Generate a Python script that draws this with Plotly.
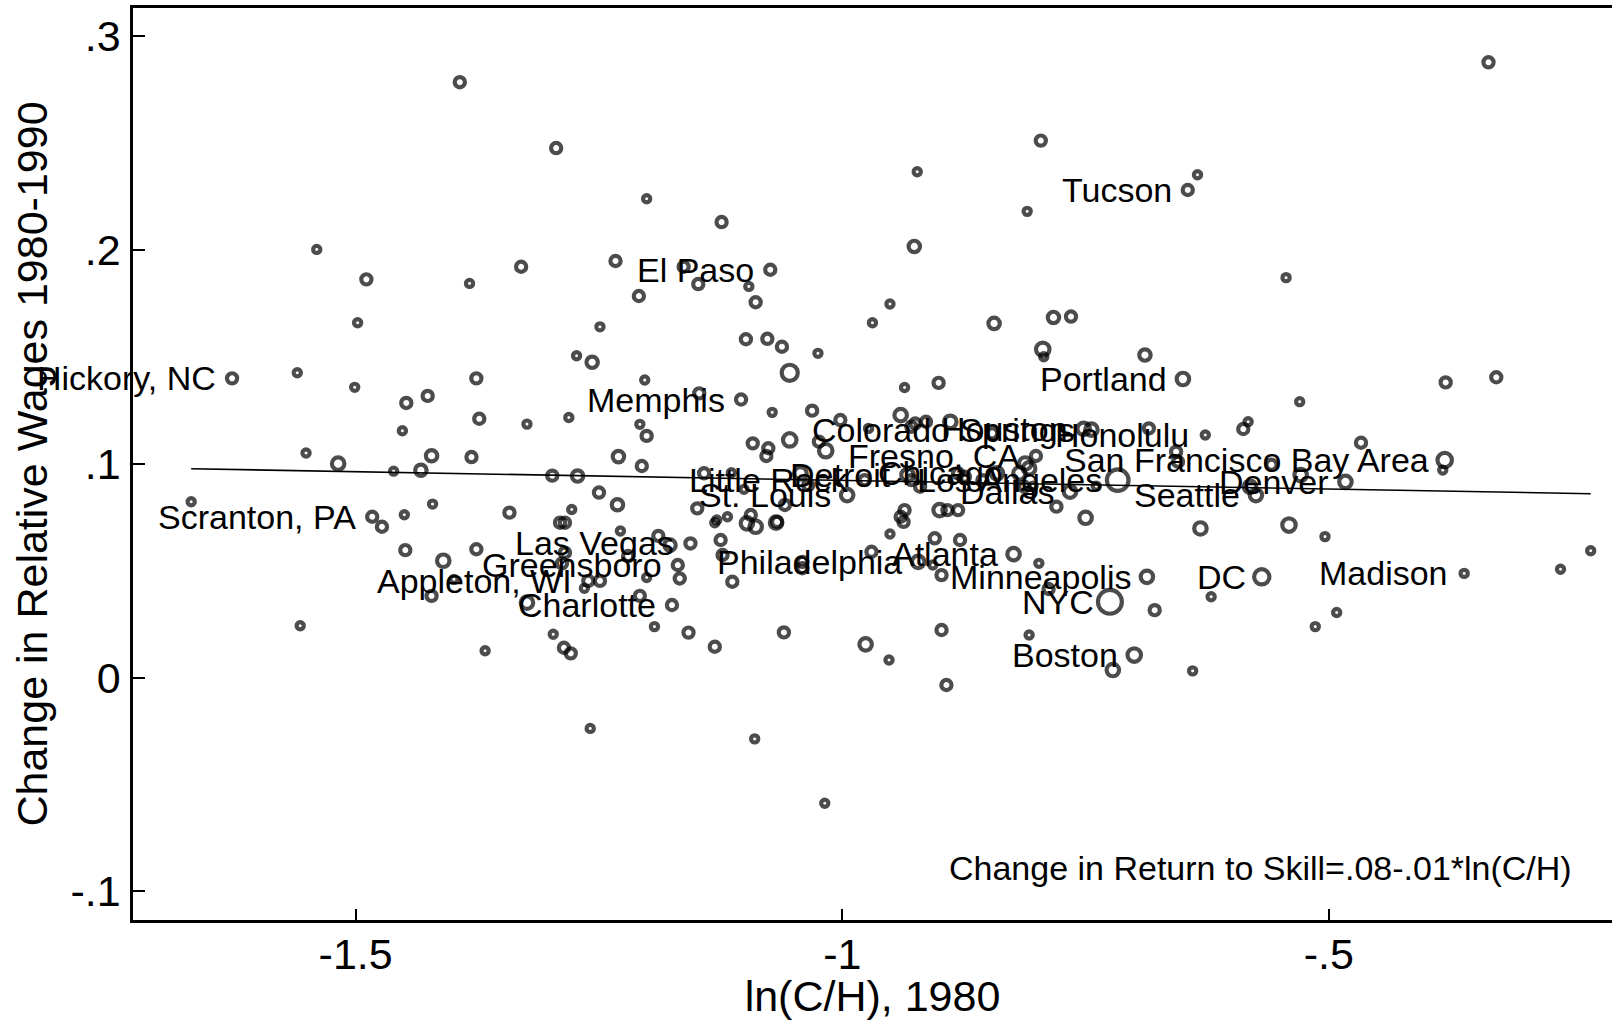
import numpy as np
import plotly.graph_objects as go

# ---------------- data ----------------
ln_ch = [
    -1.393, -1.294, -0.796, -0.923, -0.635, -0.645, -0.336, -1.201, -1.124, -0.810,
    -1.540, -0.926, -1.233, -1.330, -1.163, -1.074, -1.148, -1.096, -1.489, -1.383,
    -0.544, -1.209, -1.089, -0.951, -1.498, -1.249, -0.969, -0.844, -0.783, -0.765,
    -1.099, -1.077, -1.062, -1.025, -0.794, -0.793, -0.689, -1.273, -1.257, -1.054,
    -1.560, -1.627, -1.376, -1.203, -0.650, -0.380, -0.328, -0.936, -0.901, -1.501,
    -1.448, -1.426, -1.147, -1.104, -1.072, -1.031, -0.530, -1.452, -1.373, -1.324,
    -1.281, -1.208, -1.201, -1.054, -1.092, -1.076, -1.078, -1.024, -1.017, -1.002,
    -0.973, -0.940, -0.925, -0.929, -0.914, -0.889, -0.846, -0.752, -0.744, -0.685,
    -0.801, -0.812, -0.808, -0.818, -0.657, -0.655, -0.627, -0.583, -0.588, -0.467,
    -0.559, -0.381, -0.383, -0.529, -0.483, -0.575, -0.581, -0.717, -0.739, -0.766,
    -0.780, -0.750, -0.632, -0.541, -0.504, -0.804, -0.813, -0.856, -0.841, -0.881,
    -0.874, -0.933, -0.929, -0.920, -0.977, -1.043, -1.035, -0.995, -1.059, -1.142,
    -1.114, -1.101, -1.149, -1.129, -1.131, -1.118, -1.098, -1.089, -1.094, -1.068,
    -1.067, -0.936, -0.940, -0.937, -0.900, -0.892, -0.881, -0.951, -0.905, -0.879,
    -1.189, -1.177, -1.156, -1.125, -1.123, -1.169, -1.167, -1.201, -1.113, -1.041,
    -1.041, -0.970, -0.922, -0.907, -0.898, -0.824, -0.798, -0.687, -0.788, -0.725,
    -0.679, -0.569, -0.621, -0.361, -0.262, -0.231, -0.492, -0.514, -0.700, -0.722,
    -0.640, -0.808, -0.898, -0.952, -0.976, -1.060, -1.131, -1.158, -1.175, -1.193,
    -1.208, -0.893, -1.090, -1.018, -1.669, -1.557, -1.551, -1.518, -1.461, -1.433,
    -1.422, -1.381, -1.298, -1.272, -1.230, -1.206, -1.250, -1.231, -1.483, -1.473,
    -1.450, -1.421, -1.342, -1.278, -1.290, -1.285, -1.228, -1.449, -1.410, -1.376,
    -1.399, -1.422, -1.285, -1.288, -1.220, -1.261, -1.249, -1.265, -1.324, -1.367,
    -1.297, -1.286, -1.279, -1.259,
]

d_wage = [
    0.2784, 0.2476, 0.2511, 0.2365, 0.2351, 0.2280, 0.2877, 0.2239, 0.2130, 0.2180,
    0.2002, 0.2016, 0.1948, 0.1921, 0.1921, 0.1907, 0.1840, 0.1829, 0.1862, 0.1843,
    0.1870, 0.1784, 0.1755, 0.1747, 0.1659, 0.1640, 0.1659, 0.1656, 0.1684, 0.1688,
    0.1582, 0.1584, 0.1547, 0.1516, 0.1535, 0.1500, 0.1508, 0.1505, 0.1474, 0.1425,
    0.1425, 0.1399, 0.1399, 0.1391, 0.1396, 0.1380, 0.1404, 0.1356, 0.1378, 0.1357,
    0.1284, 0.1317, 0.1329, 0.1300, 0.1240, 0.1248, 0.1290, 0.1154, 0.1210, 0.1185,
    0.1216, 0.1184, 0.1130, 0.1111, 0.1095, 0.1072, 0.1036, 0.1103, 0.1061, 0.1204,
    0.1165, 0.1227, 0.1188, 0.1173, 0.1196, 0.1196, 0.1142, 0.1163, 0.1159, 0.1165,
    0.1036, 0.1001, 0.0978, 0.0955, 0.1056, 0.1009, 0.1134, 0.1196, 0.1162, 0.1098,
    0.0995, 0.1017, 0.0970, 0.0947, 0.0915, 0.0853, 0.0892, 0.0923, 0.0895, 0.0869,
    0.0799, 0.0747, 0.0697, 0.0713, 0.0659, 0.0895, 0.0892, 0.0923, 0.0955, 0.0955,
    0.0939, 0.0947, 0.0923, 0.0892, 0.0923, 0.0955, 0.0900, 0.0853, 0.0807, 0.0955,
    0.0958, 0.0880, 0.0791, 0.0737, 0.0724, 0.0752, 0.0721, 0.0705, 0.0760, 0.0724,
    0.0728, 0.0783, 0.0752, 0.0728, 0.0783, 0.0783, 0.0783, 0.0671, 0.0651, 0.0643,
    0.0662, 0.0619, 0.0627, 0.0643, 0.0573, 0.0526, 0.0463, 0.0468, 0.0448, 0.0541,
    0.0511, 0.0588, 0.0541, 0.0526, 0.0479, 0.0577, 0.0534, 0.0471, 0.0414, 0.0354,
    0.0315, 0.0471, 0.0378, 0.0487, 0.0506, 0.0593, 0.0304, 0.0238, 0.0105, 0.0035,
    0.0031, 0.0199, 0.0222, 0.0082, 0.0155, 0.0211, 0.0144, 0.0210, 0.0339, 0.0238,
    0.0382, -0.0035, -0.0287, -0.0588, 0.0822, 0.0242, 0.1050, 0.1000, 0.0965, 0.0969,
    0.1037, 0.1031, 0.0944, 0.0942, 0.1033, 0.0989, 0.0865, 0.0808, 0.0752, 0.0705,
    0.0761, 0.0811, 0.0771, 0.0786, 0.0724, 0.0724, 0.0685, 0.0596, 0.0546, 0.0600,
    0.0459, 0.0382, 0.0584, 0.0534, 0.0568, 0.0452, 0.0452, 0.0417, 0.0350, 0.0125,
    0.0202, 0.0139, 0.0113, -0.0238,
]

# relative population weight of each city (marker area is proportional to it)
weight = [
    2, 2, 2, 1, 1, 2, 2, 1, 2, 1,
    1, 2.5, 2, 2, 2, 2, 2, 1, 2, 1,
    1, 2, 2, 1, 1, 1, 1, 2.5, 2.5, 2,
    2, 2, 2, 1, 3.5, 1, 2.5, 1, 2.5, 5,
    1, 2, 2, 1, 3, 2, 2, 1, 2, 1,
    2, 2, 2, 2, 1, 2, 1, 1, 2, 1,
    1, 1, 2, 3.5, 2, 2, 2, 2, 3.5, 2,
    1, 3, 2, 2, 2, 3, 2, 3, 3, 2,
    2, 3, 3, 3, 2, 2, 1, 1, 2, 2,
    2, 4, 1, 3, 3, 3, 3, 9, 1, 3,
    2, 3, 3, 3.5, 1, 1, 2, 2, 3, 2,
    2, 3, 2, 2, 2, 3, 2, 3, 2, 2,
    1, 1, 2, 1, 1, 1, 3, 3, 2, 3,
    2, 2, 2, 2, 3, 2, 2, 1, 2, 2,
    2, 2.5, 2, 2, 2, 2, 2, 1, 2, 2,
    2, 2, 3, 1, 2, 3, 1, 3, 2, 11,
    2, 4.5, 1, 1, 1, 1, 1, 1, 3.5, 3,
    1, 1, 2, 1, 3, 2, 2, 2, 2, 1,
    2, 2, 1, 1, 1, 1, 1, 3, 1, 2.5,
    2.5, 2, 2, 2.5, 2.5, 2, 2, 2.5, 2, 2,
    1, 1, 2, 1, 2, 2, 1, 2, 3, 2,
    1, 2, 2, 2, 2, 2, 2, 1, 3, 1,
    1, 2, 2, 1,
]

city = [
    "", "", "", "", "", "Tucson", "", "", "", "",
    "", "", "", "", "", "El Paso", "", "", "", "",
    "", "", "", "", "", "", "", "", "", "",
    "", "", "", "", "", "", "", "", "", "",
    "", "Hickory, NC", "", "", "Portland", "", "", "", "", "",
    "", "", "", "Memphis", "", "", "", "", "", "",
    "", "", "", "", "", "", "", "", "", "",
    "", "", "", "", "", "", "", "Houston", "Colorado Springs", "",
    "Fresno, CA", "", "", "Chicago", "", "", "Honolulu", "", "", "",
    "", "San Francisco Bay Area", "", "", "Denver", "Seattle", "", "Los Angeles", "", "Dallas",
    "", "", "", "", "", "", "", "", "", "",
    "", "Detroit", "", "", "Little Rock", "", "", "St. Louis", "", "",
    "", "", "", "", "", "", "", "", "", "",
    "", "", "", "", "", "", "", "", "", "",
    "", "", "Las Vegas", "", "", "Greensboro", "", "", "", "",
    "", "", "Philadelphia", "", "", "Atlanta", "", "Minneapolis", "", "NYC",
    "", "DC", "", "Madison", "", "", "", "", "Boston", "",
    "", "", "", "", "", "", "", "", "Charlotte", "",
    "", "", "", "", "", "", "", "", "", "",
    "", "", "", "", "", "", "", "", "Scranton, PA", "",
    "", "", "", "", "", "", "", "", "", "",
    "", "", "", "", "", "Appleton, WI", "", "", "", "",
    "", "", "", "",
]

fit_intercept = 0.0841
fit_slope = -0.0081
fit_note = "Change in Return to Skill=.08-.01*ln(C/H)"

x_tickvals = [-1.5, -1.0, -0.5]
x_ticktext = ["-1.5", "-1", "-.5"]
y_tickvals = [-0.1, 0.0, 0.1, 0.2, 0.3]
y_ticktext = ["-.1", "0", ".1", ".2", ".3"]

x_title = "ln(C/H), 1980"
y_title = "Change in Relative Wages 1980-1990"

# ---------------- figure ----------------
FONT = "Liberation Sans, Arial, Helvetica, sans-serif"

x = np.array(ln_ch)
y = np.array(d_wage)
w = np.array(weight, dtype=float)
msize = 7.2 * np.sqrt(w)

fig = go.Figure()

xl = np.array([x.min(), x.max()])
fig.add_trace(go.Scatter(
    x=xl, y=fit_intercept + fit_slope * xl, mode="lines",
    line=dict(color="black", width=1.6), hoverinfo="skip", showlegend=False))

fig.add_trace(go.Scatter(
    x=x, y=y, mode="markers", text=city,
    marker=dict(symbol="circle-open", size=msize, color="black",
                line=dict(width=4.2, color="black")),
    showlegend=False))

for xi, yi, c in zip(x, y, city):
    if c:
        fig.add_annotation(
            x=xi, y=yi, text=c, showarrow=False, xanchor="right", yanchor="middle",
            xshift=-14, font=dict(size=34, color="black", family=FONT))

L, T, B = 133, 8, 100
W, H = 1612, 1020
pw, ph = W - L, H - T - B

fig.add_annotation(
    xref="paper", yref="paper", x=(1574 - L) / pw, y=(H - B - 868) / ph,
    text=fit_note, showarrow=False, xanchor="right", yanchor="middle",
    font=dict(size=34, color="black", family=FONT))

fig.update_layout(
    width=W, height=H,
    margin=dict(l=L, r=0, t=T, b=B, pad=0, autoexpand=False),
    paper_bgcolor="white", plot_bgcolor="white",
    font=dict(family=FONT, color="black"),
    showlegend=False,
)

fig.update_xaxes(
    range=[-1.7288, -0.2091], automargin=False,
    tickmode="array", tickvals=x_tickvals, ticktext=x_ticktext,
    ticks="inside", ticklen=11, tickwidth=1.5, tickcolor="black",
    tickfont=dict(size=43, family=FONT, color="black"),
    ticklabelstandoff=-5,
    showline=True, linewidth=2.6, linecolor="black", mirror=True,
    showgrid=False, zeroline=False,
    title=dict(text=x_title, font=dict(size=43, family=FONT, color="black"), standoff=20),
)
fig.update_yaxes(
    range=[-0.1134, 0.3131], automargin=False,
    tickmode="array", tickvals=y_tickvals, ticktext=y_ticktext,
    ticks="inside", ticklen=12, tickwidth=1.5, tickcolor="black",
    tickfont=dict(size=43, family=FONT, color="black"),
    ticklabelstandoff=1,
    showline=True, linewidth=2.6, linecolor="black", mirror=False,
    showgrid=False, zeroline=False,
    title=dict(text=y_title, font=dict(size=43, family=FONT, color="black"), standoff=10),
)

fig.write_html("out.html", config={"displayModeBar": False},
               post_script="document.body.style.margin='0';")
